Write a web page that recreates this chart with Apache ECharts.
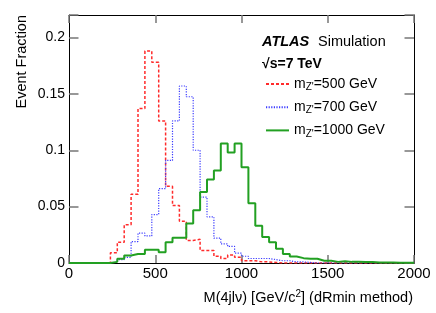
<!DOCTYPE html>
<html><head><meta charset="utf-8">
<script src="https://cdn.jsdelivr.net/npm/echarts@6/dist/echarts.min.js"></script>
<style>html,body{margin:0;padding:0;background:#fff}#c{width:436px;height:313px}</style>
</head><body><div id="c"></div>
<script>
// Bin lower edges (GeV), 40 GeV bins
const binLow = [0,40,80,120,160,200,240,280,320,360,400,440,480,520,560,600,640,680,720,760,
  800,840,880,920,960,1000,1040,1080,1120,1160,1200,1240,1280,1320,1360,1400,1440,1480,1520,1560,
  1600,1640,1680,1720,1760,1800,1840,1880,1920,1960];
const xMax = 2000;
const massPoints = ['500', '700', '1000'];
// Event fraction per bin
const frac500 = [0,0,0,0,0,0,0.009,0.0185,0.034,0.061,0.137,0.188,0.178,0.126,0.068,0.051,0.037,0.020,0.021,0.011,
  0.011,0.006,0.004,0.007,0.005,0.002,0.002,0.001,0.001,0.0005,0,0,0,0,0,0,0,0,0,0,
  0,0,0,0,0,0,0,0,0,0];
const frac700 = [0,0,0,0,0,0,0.001,0.003,0.005,0.019,0.0265,0.024,0.043,0.066,0.091,0.126,0.157,0.1475,0.100,0.0585,
  0.041,0.022,0.017,0.0147,0.0087,0.006,0.004,0.004,0.004,0.003,0.002,0.002,0.001,0.001,0.0005,0,0,0,0,0,
  0,0,0,0,0,0,0,0,0,0];
const frac1000 = [0,0,0,0,0,0,0.001,0.0037,0.0067,0.008,0.008,0.0117,0.0117,0.0096,0.0185,0.0224,0.0224,0.035,0.0467,0.063,
  0.074,0.082,0.106,0.098,0.106,0.085,0.053,0.033,0.023,0.0185,0.0126,0.008,0.0058,0.0043,0.0037,0.0037,0.002,0.002,0.001,0.0015,
  0.001,0.001,0.0008,0.0008,0.0005,0.0005,0.0005,0.0003,0.0003,0.0003];
const xTickLabels = [0, 500, 1000, 1500, 2000];
const yTickLabels = [0, 0.05, 0.1, 0.15, 0.2];

const FONT = "'Liberation Sans', Arial, Helvetica, sans-serif";
const chart = echarts.init(document.getElementById('c'), null, {renderer: 'canvas'});

function hist(vals) {
  const d = binLow.map((x, i) => [x, vals[i]]);
  d.push([xMax, vals[vals.length - 1]]);
  return d;
}
const names = massPoints.map(m => "m_Z'=" + m + " GeV");
const styles = [
  {color: '#ff2b2b', width: 1.5, type: [3, 2]},
  {color: '#3c3cff', width: 1.2, type: [1.2, 1.4]},
  {color: '#22a022', width: 2, type: 'solid'}
];
const allVals = [frac500, frac700, frac1000];

const axisLineStyle = {color: '#000', width: 1};
const tickStyle = {color: '#777', width: 1.5};
function fmtY(v) {
  for (const t of yTickLabels) if (Math.abs(v - t) < 1e-9) return String(t);
  return '';
}
function fmtX(v) {
  for (const t of xTickLabels) if (Math.abs(v - t) < 1e-9) return String(t);
  return '';
}

const option = {
  animation: false,
  textStyle: {fontFamily: FONT},
  grid: {left: 69, right: 22, top: 15, bottom: 50},
  xAxis: [
    {type: 'value', min: 0, max: xMax, interval: 500, position: 'bottom',
     axisLine: {show: true, onZero: false, lineStyle: axisLineStyle},
     axisTick: {show: true, inside: true, length: 8, lineStyle: tickStyle},
     axisLabel: {margin: 3, fontSize: 15, color: '#000', fontFamily: FONT, formatter: fmtX},
     splitLine: {show: false}},
    {type: 'value', min: 0, max: xMax, interval: 500, position: 'top',
     axisLine: {show: true, onZero: false, lineStyle: axisLineStyle},
     axisTick: {show: true, inside: true, length: 8, lineStyle: tickStyle},
     axisLabel: {show: false}, splitLine: {show: false}}
  ],
  yAxis: [
    {type: 'value', min: 0, max: 0.22, interval: 0.05, position: 'left',
     axisLine: {show: true, onZero: false, lineStyle: axisLineStyle},
     axisTick: {show: true, inside: true, length: 9.5, lineStyle: tickStyle},
     axisLabel: {margin: 4, fontSize: 14, color: '#000', fontFamily: FONT, formatter: fmtY},
     splitLine: {show: false}},
    {type: 'value', min: 0, max: 0.22, interval: 0.05, position: 'right',
     axisLine: {show: true, onZero: false, lineStyle: axisLineStyle},
     axisTick: {show: true, inside: true, length: 9.5, lineStyle: tickStyle},
     axisLabel: {show: false}, splitLine: {show: false}}
  ],
  legend: {
    left: 265, top: 77, orient: 'vertical', padding: 0,
    itemWidth: 23, itemHeight: 14, itemGap: 7.7,
    data: names,
    itemStyle: {opacity: 0},
    formatter: function (name) {
      const m = name.replace("m_Z'=", '');
      return "m{sub|Z'}=" + m;
    },
    textStyle: {fontSize: 14, color: '#000', fontFamily: FONT,
      rich: {sub: {fontSize: 10, fontFamily: FONT, color: '#000', padding: [7, 0, 0, 0]}}}
  },
  graphic: [
    {type: 'text', x: 262, y: 41.5, style: {text: 'ATLAS', fontSize: 14.5, fontWeight: 'bold', fontStyle: 'italic', fontFamily: FONT, fill: '#000', verticalAlign: 'middle', align: 'left'}},
    {type: 'text', x: 318, y: 41.5, style: {text: 'Simulation', fontSize: 14.5, fontFamily: FONT, fill: '#000', verticalAlign: 'middle', align: 'left'}},
    {type: 'text', x: 262, y: 64, style: {text: '\u221As=7 TeV', fontSize: 14, fontWeight: 'bold', fontFamily: FONT, fill: '#000', verticalAlign: 'middle', align: 'left'}},
    {type: 'text', x: 22, y: 15, rotation: Math.PI / 2, style: {text: 'Event Fraction', fontSize: 14.5, fontFamily: FONT, fill: '#000', verticalAlign: 'middle', align: 'right'}},
    {type: 'text', x: 413, y: 298, style: {text: 'M(4jl\u03BD) [GeV/c{sup|2}] (dRmin method)', fontSize: 14.5, fontFamily: FONT, fill: '#000', verticalAlign: 'middle', align: 'right',
      rich: {sup: {fontSize: 10, fontFamily: FONT, fill: '#000', padding: [0, 0, 7, 0]}}}}
  ],
  series: names.map((n, i) => ({
    type: 'line', name: n, data: hist(allVals[i]), step: 'end',
    symbol: 'none', showSymbol: false,
    lineStyle: styles[i], itemStyle: {color: styles[i].color},
    z: 2 + i
  }))
};
chart.setOption(option);
</script></body></html>
